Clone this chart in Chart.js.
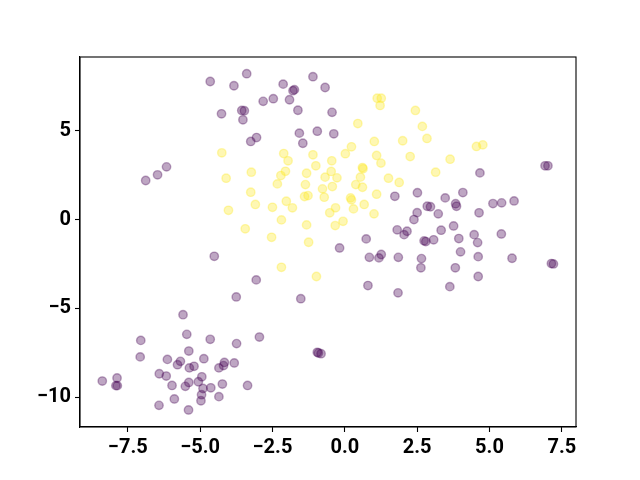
<!DOCTYPE html>
<html>
<head>
<meta charset="utf-8">
<script src="https://cdn.jsdelivr.net/npm/chart.js@4"></script>
<style>
  body { margin: 0; background: #fff; }
</style>
</head>
<body>
<canvas id="scatter-chart" width="640" height="480"></canvas>
<script>
var purple_x = [-4.65, -3.83, -3.39, -4.26, -3.56, -3.47, -3.52, -6.16, -6.47, -6.88,
	-2.13, -1.10, -0.68, -1.79, -1.74, -2.82, -2.47, -1.91, -1.62, -0.44,
	-1.57, -0.95, -0.38, -1.45, -3.05, -3.25, 4.67, 6.92, 7.02, 1.73,
	2.39, 2.51, 2.50, 0.74, -0.18, 1.81, 2.15, 2.05, 0.85, 1.18,
	1.26, 1.85, -3.06, 0.80, 1.84, -1.52, -4.51, -3.75, 3.47, 4.08,
	2.85, 2.96, 3.23, 3.83, 3.86, 4.64, 5.12, 5.42, 5.85, 3.76,
	3.33, 4.47, 4.59, 3.94, 5.41, 2.74, 2.80, 3.07, 2.65, 2.63,
	4.00, 4.61, 3.82, 5.78, 4.61, 3.63, 7.14, 7.21, -5.59, -5.46,
	-7.05, -4.65, -3.74, -5.39, -7.07, -6.13, -5.68, -5.78, -4.87, -5.37,
	-5.21, -4.16, -4.19, -4.35, -3.82, -8.38, -7.87, -7.91, -7.86, -6.41,
	-6.17, -4.94, -5.06, -5.39, -5.51, -5.97, -4.90, -4.63, -4.23, -4.95,
	-4.97, -4.35, -5.89, -6.42, -5.40, -3.36, -2.95, -0.95, -0.82, -0.91];
var purple_y = [7.78, 7.54, 8.22, 5.96, 6.15, 6.13, 5.62, 2.97, 2.52, 2.20,
	7.63, 8.05, 7.44, 7.26, 7.32, 6.66, 6.81, 6.75, 6.16, 6.04,
	4.87, 4.98, 4.83, 4.30, 4.62, 4.40, 2.63, 3.03, 3.03, 1.31,
	0.00, 1.51, 0.39, -1.09, -1.60, -0.58, -0.66, -0.85, -2.13, -2.16,
	-1.97, -2.13, -3.40, -3.72, -4.13, -4.46, -2.07, -4.36, 1.22, 1.52,
	0.75, 0.72, 0.32, 0.89, 0.75, 0.38, 0.90, 0.94, 1.05, -0.36,
	-0.60, -0.85, -1.30, -1.07, -0.81, -1.20, -1.24, -1.14, -2.20, -2.72,
	-1.82, -2.09, -2.72, -2.18, -3.21, -3.78, -2.48, -2.50, -5.36, -6.47,
	-6.81, -6.75, -6.99, -7.41, -7.74, -7.88, -7.99, -8.18, -7.84, -8.36,
	-8.27, -8.05, -8.23, -8.36, -8.08, -9.10, -8.93, -9.36, -9.36, -8.69,
	-8.82, -8.86, -9.14, -9.18, -9.40, -9.35, -9.52, -9.48, -9.27, -9.87,
	-10.21, -9.98, -10.11, -10.47, -10.73, -9.35, -6.62, -7.48, -7.56, -7.52];

var yellow_x = [-4.25, -4.10, 1.12, 1.26, 1.22, 2.44, 0.45, 1.02, 2.00, 0.23,
	0.02, 1.10, 2.26, 1.25, -2.11, -1.96, -1.10, -0.45, -1.00, 0.61,
	0.63, -3.23, -2.05, -2.21, -1.32, -0.47, -0.68, -0.27, 0.54, 1.51,
	1.88, -2.33, -1.36, -0.77, -0.43, 0.38, 0.61, -3.25, -3.09, -2.50,
	-2.02, -1.81, -1.39, -1.27, -0.71, 0.20, 0.23, 0.67, 1.10, -0.32,
	-0.52, 0.30, 1.01, -2.19, -3.44, -1.32, -0.33, -0.06, -2.53, -1.25,
	-2.19, -0.98, -4.02, 2.68, 2.84, 4.55, 4.77, 3.64, 3.14];
var yellow_y = [3.76, 2.33, 6.84, 6.84, 6.43, 6.15, 5.41, 4.40, 4.44, 4.10,
	3.71, 3.61, 3.55, 3.18, 3.72, 3.31, 3.65, 3.31, 3.03, 2.93,
	2.86, 2.67, 2.72, 2.48, 2.61, 2.71, 2.39, 2.35, 2.39, 2.33,
	2.09, 2.01, 1.97, 1.73, 1.86, 1.97, 1.82, 1.54, 0.85, 0.69,
	1.03, 0.66, 1.30, 1.35, 1.26, 1.22, 1.11, 0.85, 1.43, 0.66,
	0.38, 0.60, 0.32, -0.02, -0.52, -0.30, -0.34, -0.10, -1.00, -1.28,
	-2.69, -3.21, 0.52, 5.25, 4.57, 4.12, 4.21, 3.40, 2.67];

var x_ticks = [-7.5, -5.0, -2.5, 0.0, 2.5, 5.0, 7.5];
var y_ticks = [-10, -5, 0, 5];

function to_points(xs, ys) {
	var pts = [];
	for (let i in xs) {
		pts.push({ x: xs[i], y: ys[i] });
	}
	return pts;
}

function fmt(v, digits) {
	return v.toFixed(digits).replace("-", "\u2212");
}

// frame on all four sides like matplotlib
var frame = {
	id: 'frame',
	afterDraw: function(chart) {
		var a = chart.chartArea;
		var ctx = chart.ctx;
		ctx.save();
		ctx.strokeStyle = "#000";
		ctx.lineWidth = 1.1;
		ctx.strokeRect(a.left, a.top, a.right - a.left, a.bottom - a.top);
		ctx.restore();
	}
};

Chart.defaults.font.family = "Roboto";
Chart.defaults.color = "#000";

new Chart(document.getElementById("scatter-chart"), {
	type: 'scatter',
	data: {
		datasets: [
			{
				data: to_points(purple_x, purple_y),
				backgroundColor: "rgba(68, 1, 84, 0.35)",
				borderColor: "rgba(68, 1, 84, 0.35)",
				borderWidth: 1.4,
				pointRadius: 4.2
			},
			{
				data: to_points(yellow_x, yellow_y),
				backgroundColor: "rgba(253, 231, 37, 0.35)",
				borderColor: "rgba(253, 231, 37, 0.35)",
				borderWidth: 1.4,
				pointRadius: 4.2
			}
		]
	},
	options: {
		responsive: false,
		animation: false,
		layout: { padding: { left: 0, top: 57, right: 64, bottom: 0 } },
		plugins: {
			legend: { display: false },
			tooltip: { enabled: false }
		},
		scales: {
			x: {
				type: 'linear',
				min: -9.15,
				max: 7.99,
				afterBuildTicks: function(axis) {
					axis.ticks = x_ticks.map(function(v) { return { value: v }; });
				},
				afterFit: function(axis) { axis.height = 53; },
				grid: { drawOnChartArea: false, drawTicks: true, tickLength: 5, color: "#000", tickWidth: 1.1 },
				border: { display: true, color: "#000", width: 1.1 },
				ticks: {
					padding: 4,
					maxRotation: 0,
					font: { size: 20, weight: 'bold' },
					callback: function(v) { return fmt(v, 1); }
				}
			},
			y: {
				type: 'linear',
				min: -11.69,
				max: 9.16,
				afterBuildTicks: function(axis) {
					axis.ticks = y_ticks.map(function(v) { return { value: v }; });
				},
				afterFit: function(axis) { axis.width = 80; },
				grid: { drawOnChartArea: false, drawTicks: true, tickLength: 5, color: "#000", tickWidth: 1.1 },
				border: { display: true, color: "#000", width: 1.1 },
				ticks: {
					padding: 4,
					font: { size: 20, weight: 'bold' },
					callback: function(v) { return fmt(v, 0); }
				}
			}
		}
	},
	plugins: [frame]
});
</script>
</body>
</html>
